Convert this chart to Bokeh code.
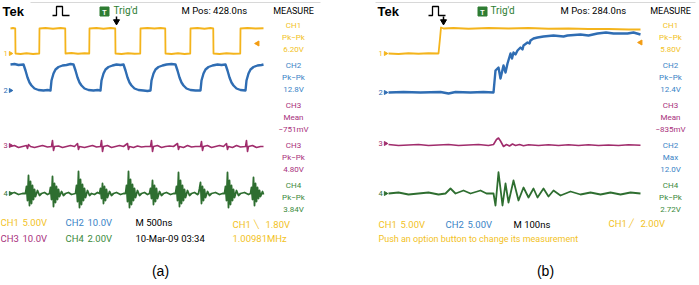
import math
from bokeh.plotting import figure
from bokeh.models import Range1d, Label
from bokeh.embed import file_html
from bokeh.resources import INLINE

# ---------------- data (time in ns, amplitude in V) ----------------
# Panel (a): M 500ns
CH1_A = [(0,5.0),(50,5.1),(95,5.0),(100,0),(200,-0.1),(320,0.05),(450,-0.1),(575,0),(580,5.0),(700,5.1),(850,4.95),
         (1000,5.1),(1095,5.0),(1100,0),(1220,0.1),(1350,-0.05),(1480,0.05),(1575,0),(1580,5.0),(1720,5.1),(1860,4.95),
         (2000,5.1),(2095,5.0),(2100,0),(2220,-0.1),(2350,0.05),(2480,-0.05),(2595,0),(2600,5.0),(2740,5.1),(2880,5.0),
         (3000,5.1),(3095,5.0),(3100,0),(3220,-0.1),(3350,0.05),(3480,-0.1),(3595,0),(3600,5.0),(3740,5.1),(3880,4.95),
         (4000,5.1),(4055,5.0),(4060,0),(4180,-0.1),(4320,0.05),(4460,-0.05),(4595,0),(4600,5.0),(4740,5.1),(4900,5.0),(5060,5.05)]
CH2_A = [(0,10.4),(80,10.6),(160,10.2),(260,10.4),(300,8.0),(340,5.2),(380,3.2),(420,2.0),(480,0.8),(560,0.2),(660,0),(740,0.2),
         (800,0),(820,4.0),(860,6.8),(900,8.4),(960,9.4),(1040,10.0),(1120,10.2),(1200,10.6),(1260,10.4),(1300,8.0),(1340,5.2),
         (1380,3.2),(1420,2.0),(1480,0.8),(1560,0.2),(1660,0),(1740,0.2),(1800,0),(1820,4.0),(1860,6.8),(1900,8.4),(1960,9.4),
         (2040,10.0),(2120,10.4),(2200,10.2),(2260,10.4),(2300,8.0),(2340,5.2),(2380,3.2),(2420,2.0),(2480,0.8),(2560,0.2),
         (2660,0),(2740,-0.2),(2800,0),(2820,4.0),(2860,6.8),(2900,8.4),(2960,9.4),(3040,10.0),(3120,10.4),(3220,10.6),
         (3300,10.4),(3340,8.0),(3380,5.2),(3420,3.2),(3460,2.0),(3520,0.8),(3600,0.2),(3700,0),(3800,0),(3820,4.0),(3860,6.8),
         (3900,8.4),(3960,9.4),(4040,10.0),(4140,10.4),(4220,10.2),(4300,10.4),(4340,8.0),(4380,5.2),(4420,3.2),(4460,2.0),
         (4520,0.8),(4600,0.2),(4700,0),(4720,4.0),(4760,6.8),(4800,8.4),(4860,9.4),(4940,10.0),(5020,10.2),(5060,10.4)]
CH3_A = [(0,-0.4),(80,0),(160,-0.8),(240,-0.4),(320,0),(340,-1.2),(360,0.4),(400,-0.4),(480,-0.8),(560,-0.4),(640,0),(740,-0.6),
         (820,-0.4),(840,2.0),(860,-2.0),(880,-0.4),(960,-0.2),(1040,-0.8),(1120,-0.4),(1200,0),(1280,-0.4),(1340,0.8),(1360,-1.6),
         (1380,-0.4),(1480,-0.8),(1560,-0.4),(1640,0),(1720,-0.6),(1800,-0.4),(1820,2.0),(1840,-2.4),(1860,-0.4),(1940,0),
         (2020,-0.8),(2100,-0.4),(2180,0),(2260,-0.4),(2340,0.8),(2360,-1.6),(2380,-0.4),(2460,-0.8),(2540,-0.2),(2620,-0.6),
         (2700,-0.4),(2800,-0.4),(2820,2.0),(2840,-2.4),(2860,-0.4),(2940,0),(3020,-0.8),(3100,-0.4),(3180,-0.2),(3260,-0.4),
         (3340,0.8),(3360,-1.6),(3380,-0.4),(3460,-0.8),(3540,0),(3620,-0.6),(3700,-0.4),(3800,-0.4),(3820,1.6),(3840,-2.0),
         (3860,-0.4),(3940,0),(4020,-0.8),(4100,-0.4),(4180,0),(4260,-0.4),(4320,0.8),(4340,-1.6),(4360,-0.4),(4440,-0.8),
         (4520,0),(4600,-0.6),(4700,-0.4),(4720,2.0),(4740,-2.4),(4760,-0.4),(4840,0),(4920,-0.8),(5000,-0.4),(5060,-0.4)]
CH4_A = [(0,0),(80,0.08),(160,-0.08),(240,0),
         (300,0),(320,0.56),(340,-0.56),(360,1.44),(380,-0.96),(400,0.96),(420,-0.8),(440,0.64),(460,-0.48),(480,0.32),(500,-0.24),(540,0.24),(580,-0.16),(620,0),(680,0.08),(740,-0.08),
         (780,0),(800,0.48),(820,-0.48),(840,1.36),(860,-1.04),(880,0.8),(900,-0.72),(920,0.56),(940,-0.48),(960,0.32),(980,-0.24),(1020,0.16),(1060,-0.16),(1100,0),(1160,0.08),(1220,-0.08),
         (1300,0),(1320,0.64),(1340,-0.64),(1360,1.76),(1380,-1.12),(1400,1.12),(1420,-0.88),(1440,0.72),(1460,-0.56),(1480,0.4),(1500,-0.32),(1540,0.24),(1580,-0.16),(1620,0),(1680,-0.08),(1740,0.08),
         (1780,0),(1800,0.4),(1820,-0.4),(1840,0.8),(1860,-0.8),(1880,0.56),(1900,-0.56),(1920,0.32),(1940,-0.32),(1980,0.16),(2020,-0.16),(2060,0),(2120,0.08),(2200,-0.08),(2260,0),
         (2300,0),(2320,0.64),(2340,-0.64),(2360,1.76),(2380,-1.12),(2400,1.12),(2420,-0.88),(2440,0.72),(2460,-0.56),(2480,0.4),(2500,-0.32),(2540,0.24),(2580,-0.16),(2620,0),(2680,0.08),(2740,-0.08),
         (2780,0),(2800,0.4),(2820,-0.4),(2840,1.04),(2860,-0.88),(2880,0.64),(2900,-0.64),(2920,0.4),(2940,-0.4),(2980,0.16),(3020,-0.16),(3060,0),(3120,0.08),(3200,-0.08),(3260,0),
         (3300,0),(3320,0.56),(3340,-0.56),(3360,1.68),(3380,-1.04),(3400,1.04),(3420,-0.8),(3440,0.64),(3460,-0.56),(3480,0.32),(3500,-0.32),(3540,0.24),(3580,-0.16),(3620,0),(3680,0.08),(3740,-0.08),
         (3760,0),(3780,0.4),(3800,0.88),(3820,-0.8),(3840,0.56),(3860,-0.56),(3880,0.32),(3900,-0.32),(3940,0.16),(3980,-0.16),(4020,0),(4100,0.08),(4180,-0.08),(4240,0),
         (4280,0),(4300,0.56),(4320,-0.56),(4340,1.68),(4360,-1.12),(4380,1.04),(4400,-0.88),(4420,0.64),(4440,-0.56),(4460,0.32),(4480,-0.32),(4520,0.24),(4560,-0.16),(4600,0),(4680,0.08),(4760,-0.08),
         (4800,0),(4820,0.48),(4840,-0.48),(4860,1.28),(4880,-0.96),(4900,0.8),(4920,-0.64),(4940,0.48),(4960,-0.4),(4980,0.24),(5000,-0.24),(5040,0.16),(5060,-0.08)]

# Panel (b): M 100ns
CH1_B = [(0,0),(40,-0.1),(80,0.05),(120,-0.05),(160,0.05),(200,0),(206,3.0),(210,5.2),(220,5.0),(260,5.1),(320,4.95),(400,5.1),
         (480,5.0),(560,5.1),(640,4.95),(720,5.0),(800,4.9),(880,4.9),(960,4.8),(1008,4.8)]
CH2_B = [(0,0),(60,0.1),(128,0),(208,0.1),(240,-0.2),(268,0.1),(328,0),(380,0.1),(420,0),(428,4.4),(440,5.0),(448,2.8),(460,5.4),
         (468,4.0),(476,5.8),(488,7.8),(494,6.8),(500,8.0),(508,7.6),(516,8.4),(528,9.0),(536,8.6),(540,9.4),(556,10.0),(564,9.8),
         (568,10.4),(580,10.8),(596,11.0),(620,11.2),(660,11.4),(700,11.2),(716,11.4),(768,11.6),(800,11.4),(836,11.8),(870,12.0),
         (900,11.8),(956,11.8),(980,12.0),(1008,11.6)]
CH3_B = [(0,-0.4),(40,-0.8),(80,-0.6),(120,-0.4),(160,-0.8),(200,-0.6),(240,-0.4),(280,-0.8),(320,-0.6),(360,-0.4),(400,-0.8),
         (420,-0.4),(432,1.6),(440,2.2),(448,1.0),(460,-1.2),(472,-0.4),(484,-1.0),(496,-0.2),(508,-0.8),(524,-0.4),(540,-0.9),
         (560,-0.5),(600,-0.8),(640,-0.5),(680,-0.8),(720,-0.5),(760,-0.8),(800,-0.5),(840,-0.8),(880,-0.6),(920,-0.8),(960,-0.5),(1008,-0.7)]
CH4_B = [(0,0),(40,0.08),(80,-0.08),(120,0),(160,0.08),(200,-0.08),(228,0),(248,0.4),(268,0),(300,0.24),(328,0),(368,0.24),(392,0),
         (420,0),(428,-0.96),(440,1.7),(456,-0.96),(468,0.8),(480,-0.72),(500,1.04),(520,-0.56),(540,0.48),(560,-0.32),(580,0.4),
         (596,-0.32),(620,0.4),(640,-0.24),(660,0.24),(688,-0.16),(728,0.16),(768,-0.08),(808,0.08),(848,-0.08),(888,0.08),
         (928,-0.08),(968,0.08),(1008,0)]

VDIV_A = [5.0, 10.0, 10.0, 2.0]
VDIV_B = [5.0, 5.0, 10.0, 2.0]
MEAS_A = [("CH1", "Pk\u2212Pk", "6.20V"), ("CH2", "Pk\u2212Pk", "12.8V"), ("CH3", "Mean", "\u2212751mV"),
          ("CH3", "Pk\u2212Pk", "4.80V"), ("CH4", "Pk\u2212Pk", "3.84V")]
MEAS_B = [("CH1", "Pk\u2212Pk", "5.80V"), ("CH2", "Pk\u2212Pk", "12.4V"), ("CH3", "Mean", "\u2212835mV"),
          ("CH2", "Max", "12.0V"), ("CH4", "Pk\u2212Pk", "2.72V")]

# ---------------- styles ----------------
TRACE = {"CH1": "#f4b41c", "CH2": "#2f6db3", "CH3": "#a02c6c", "CH4": "#2e6e30"}
TXT = {"CH1": "#f2c21e", "CH2": "#3a84c6", "CH3": "#a8307c", "CH4": "#3b8a3c"}
NARROW = "Roboto"
SANS = "Liberation Sans"
W, H = 699, 285
PXDIV = 25.0

p = figure(width=W, height=H, x_range=Range1d(0, W), y_range=Range1d(H, 0),
           output_backend="svg", toolbar_location=None, min_border=0,
           x_axis_location=None, y_axis_location=None, outline_line_color=None,
           background_fill_color="white", border_fill_color="white")
p.grid.visible = False

p.extra_x_ranges = {"ta": Range1d(-10 * 20.0, (W - 10) * 20.0),
                    "tb": Range1d(-388 * 4.0, (W - 388) * 4.0)}
GND_A = [53, 90, 145, 193]
GND_B = [53, 92, 143, 193]
yr = {}
for i in range(4):
    for tag, gnd, vd in (("a", GND_A, VDIV_A), ("b", GND_B, VDIV_B)):
        g = gnd[i]
        yr[f"{tag}{i+1}"] = Range1d(start=(g - H) * vd[i] / PXDIV, end=g * vd[i] / PXDIV)
p.extra_y_ranges = yr

def trace(data, tag, ch, width):
    t, v = zip(*data)
    p.line(x=list(t), y=list(v), x_range_name="t" + tag, y_range_name=f"{tag}{ch}",
           line_color=TRACE[f"CH{ch}"], line_width=width, line_join="round")

for tag, chans in (("a", [CH1_A, CH2_A, CH3_A, CH4_A]), ("b", [CH1_B, CH2_B, CH3_B, CH4_B])):
    widths = [1.8, 2.4, 1.6, 1.8]
    for i, d in enumerate(chans):
        trace(d, tag, i + 1, widths[i])

def label(x, y, s, color="black", size=10, font=NARROW, align="left", style="normal"):
    p.add_layout(Label(x=x, y=y, text=s, text_color=color, text_font_size=f"{size}px",
                       text_font=font, text_align=align, text_baseline="middle",
                       text_font_style=style))

for ox, gnd, meas, mcx, mpos, mpos_x, trig_x, trig_txt, pulse_x, arrow_x in (
        (0, GND_A, MEAS_A, 293, "M Pos: 428.0ns", 181, 104, 113, 52, 116),
        (375, GND_B, MEAS_B, 670, "M Pos: 284.0ns", 560, 482, 490, 428, 443)):
    p.line(x=[ox + 30 if ox == 0 else ox, ox + 320], y=[2, 2], line_color="#d8d8d8", line_width=1)
    label(ox + 2, 11, "Tek", size=13, font=SANS, style="bold")
    px0 = pulse_x
    p.line(x=[px0, px0 + 4, px0 + 4, px0 + 10, px0 + 10, px0 + 17], y=[15, 15, 6, 6, 15, 15],
           line_color="black", line_width=1.3)
    p.scatter(x=[trig_x], y=[11], marker="square", size=9, fill_color="#2e7d32", line_color="#2e7d32")
    label(trig_x, 11.5, "T", color="white", size=7, font=SANS, align="center", style="bold")
    label(trig_txt, 10, "Trig'd", color="#2e7d32", size=10)
    p.segment(x0=[arrow_x], y0=[16], x1=[arrow_x], y1=[21], line_color="black", line_width=1.5)
    p.scatter(x=[arrow_x], y=[21], marker="inverted_triangle", size=6, color="black")
    label(mpos_x, 10, mpos, size=9.5)
    label(mcx, 10, "MEASURE", size=9, align="center")
    for i, g in enumerate(gnd):
        c = TRACE[f"CH{i+1}"]
        label(ox + 3, g, str(i + 1), color=c, size=7.5)
        p.scatter(x=[ox + 10], y=[g], marker="triangle", angle=-math.pi / 2, size=4, color=c)
    for k, (ch, kind, val) in enumerate(meas):
        y0 = 25 + 40 * k
        c = TXT[ch]
        label(mcx, y0, ch, color=c, size=8, align="center")
        label(mcx, y0 + 12, kind, color=c, size=8, align="center")
        label(mcx, y0 + 24, val, color=c, size=8, align="center")

p.scatter(x=[257, 640], y=[43, 42], marker="triangle", angle=math.pi / 2, size=5, color="#f39c12")

FS = 9.5
label(0, 222, "CH1", color=TXT["CH1"], size=FS)
label(22, 222, "5.00V", color=TXT["CH1"], size=FS)
label(65, 222, "CH2", color=TXT["CH2"], size=FS)
label(87, 222, "10.0V", color=TXT["CH2"], size=FS)
label(135, 222, "M 500ns", size=FS)
label(232, 224, "CH1", color=TXT["CH1"], size=FS)
label(253, 224, "\u2572", color=TXT["CH1"], size=8)
label(265, 224, "1.80V", color=TXT["CH1"], size=FS)
label(0, 238, "CH3", color=TXT["CH3"], size=FS)
label(22, 238, "10.0V", color=TXT["CH3"], size=FS)
label(65, 238, "CH4", color=TXT["CH4"], size=FS)
label(87, 238, "2.00V", color=TXT["CH4"], size=FS)
label(135, 238, "10-Mar-09 03:34", size=FS)
label(232, 238, "1.00981MHz", color=TXT["CH1"], size=FS)

label(378, 224, "CH1", color=TXT["CH1"], size=FS)
label(400, 224, "5.00V", color=TXT["CH1"], size=FS)
label(445, 224, "CH2", color=TXT["CH2"], size=FS)
label(467, 224, "5.00V", color=TXT["CH2"], size=FS)
label(513, 224, "M 100ns", size=FS)
label(608, 223, "CH1", color=TXT["CH1"], size=FS)
label(628, 223, "\u2571", color=TXT["CH1"], size=8)
label(640, 223, "2.00V", color=TXT["CH1"], size=FS)
label(378, 238, "Push an option button to change its measurement", color=TXT["CH1"], size=9)

label(160, 270, "(a)", size=14, font=SANS, align="center")
label(545, 270, "(b)", size=14, font=SANS, align="center")

open("out.html", "w").write(file_html(p, INLINE))
